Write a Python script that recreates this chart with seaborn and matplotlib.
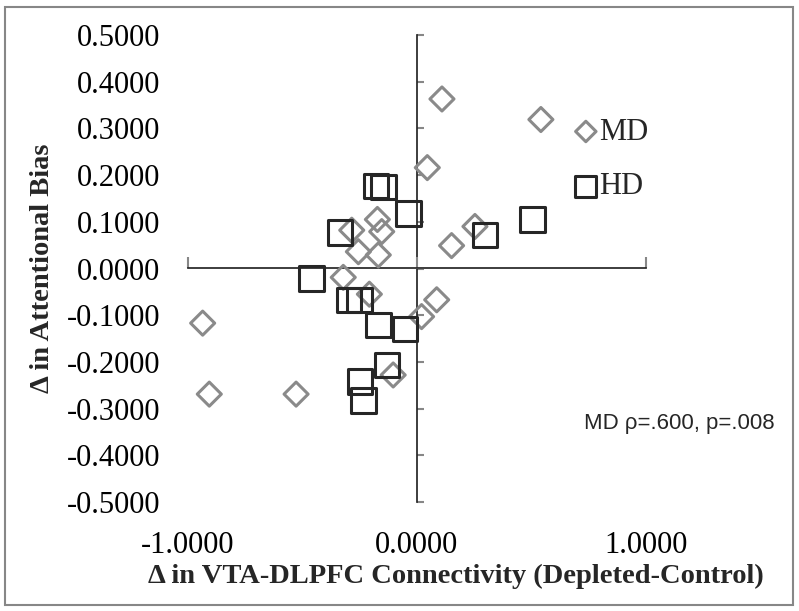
import matplotlib
matplotlib.use("Agg")
import matplotlib.pyplot as plt
import seaborn as sns
import pandas as pd
import numpy as np
from matplotlib.patches import Rectangle

# ---- data ----
md_x = [0.109, 0.541, 0.045, 0.253, 0.151, 0.086, 0.020, -0.104, -0.936,
        -0.907, -0.528, -0.322, -0.208, -0.285, -0.173, -0.154, -0.256, -0.169]
md_y = [0.363, 0.319, 0.216, 0.090, 0.049, -0.067, -0.103, -0.228, -0.117,
        -0.269, -0.269, -0.019, -0.055, 0.082, 0.105, 0.079, 0.036, 0.029]
hd_x = [-0.460, -0.297, -0.252, -0.169, -0.052, -0.130, -0.249, -0.234,
        -0.180, -0.147, -0.038, -0.336, 0.297, 0.505]
hd_y = [-0.021, -0.067, -0.067, -0.121, -0.130, -0.207, -0.242, -0.283,
        0.177, 0.174, 0.118, 0.077, 0.072, 0.105]
groups = ["MD", "HD"]
x_ticks = [-1.0, 0.0, 1.0]
y_ticks = [-0.5, -0.4, -0.3, -0.2, -0.1, 0.0, 0.1, 0.2, 0.3, 0.4, 0.5]
x_label = "\u0394 in VTA-DLPFC Connectivity (Depleted-Control)"
y_label = "\u0394 in Attentional Bias"
annotation = "MD \u03c1=.600, p=.008"

df = pd.DataFrame({
    "x": md_x + hd_x,
    "y": md_y + hd_y,
    "group": ["MD"] * len(md_x) + ["HD"] * len(hd_x),
})

sns.set_theme(style="white")
plt.rcParams["font.family"] = ["Liberation Serif", "DejaVu Serif"]
plt.rcParams["axes.unicode_minus"] = False

axis_gray = "#878787"
md_color = "#8a8a8a"
hd_color = "#262626"

fig = plt.figure(figsize=(7.99, 6.11), dpi=100)
ax = fig.add_axes([188 / 799, 1 - 502 / 611, 458 / 799, 467 / 611])

# MD diamonds
sns.scatterplot(data=df[df.group == "MD"], x="x", y="y", ax=ax, marker="D",
                s=150, facecolor="none", edgecolor=md_color, linewidth=2.2,
                label="MD", zorder=3)
# HD squares
sns.scatterplot(data=df[df.group == "HD"], x="x", y="y", ax=ax, marker="s",
                s=310, facecolor="none", edgecolor=hd_color, linewidth=2.2,
                label="HD", zorder=4)

ax.set_xlim(-1, 1)
ax.set_ylim(-0.5, 0.5)
for sp in ax.spines.values():
    sp.set_visible(False)
ax.set_xticks(x_ticks, labels=[f"{v:.4f}" for v in x_ticks])
ax.set_yticks(y_ticks, labels=[f"{v:.4f}" for v in y_ticks])
ax.tick_params(axis="both", length=0, labelsize=22, colors="black")
ax.tick_params(axis="x", pad=21)
ax.tick_params(axis="y", pad=20)

ax.set_xlabel(x_label, fontsize=20.5, fontweight="bold")
ax.set_ylabel(y_label, fontsize=20.5, fontweight="bold")
ax.xaxis.set_label_coords(0.585, -0.133)
ax.yaxis.set_label_coords(-0.29, 0.5)

# crossing axis lines
sy = ax.secondary_yaxis(0.5)
sy.spines["left"].set_color(axis_gray)
sy.spines["left"].set_linewidth(2.2)
sy.set_yticks(y_ticks, labels=[])
sy.tick_params(axis="y", direction="out", length=5, width=1.5, color=axis_gray)

sx = ax.secondary_xaxis(0.5)
sx.spines["bottom"].set_color(axis_gray)
sx.spines["bottom"].set_linewidth(2.2)
sx.set_xticks(x_ticks, labels=[])
sx.tick_params(axis="x", direction="out", length=8, width=1.5, color=axis_gray)

# legend
leg = ax.legend(loc="upper left", bbox_to_anchor=(540 / 799, 1 - 90 / 611),
                bbox_transform=fig.transFigure, frameon=False, fontsize=22,
                markerscale=0.85, handletextpad=-0.15, labelspacing=0.85,
                handlelength=1.2)

ax.text(679 / 799, 1 - 423 / 611, annotation, transform=fig.transFigure,
        ha="center", va="center", fontsize=16,
        family=["Liberation Sans", "DejaVu Sans"])

# chart border
fig.patches.append(Rectangle((5 / 799, 1 - 605 / 611), 788 / 799, 598 / 611,
                             transform=fig.transFigure, fill=False,
                             edgecolor=axis_gray, linewidth=1.5))

fig.savefig("out.png", dpi=100)
